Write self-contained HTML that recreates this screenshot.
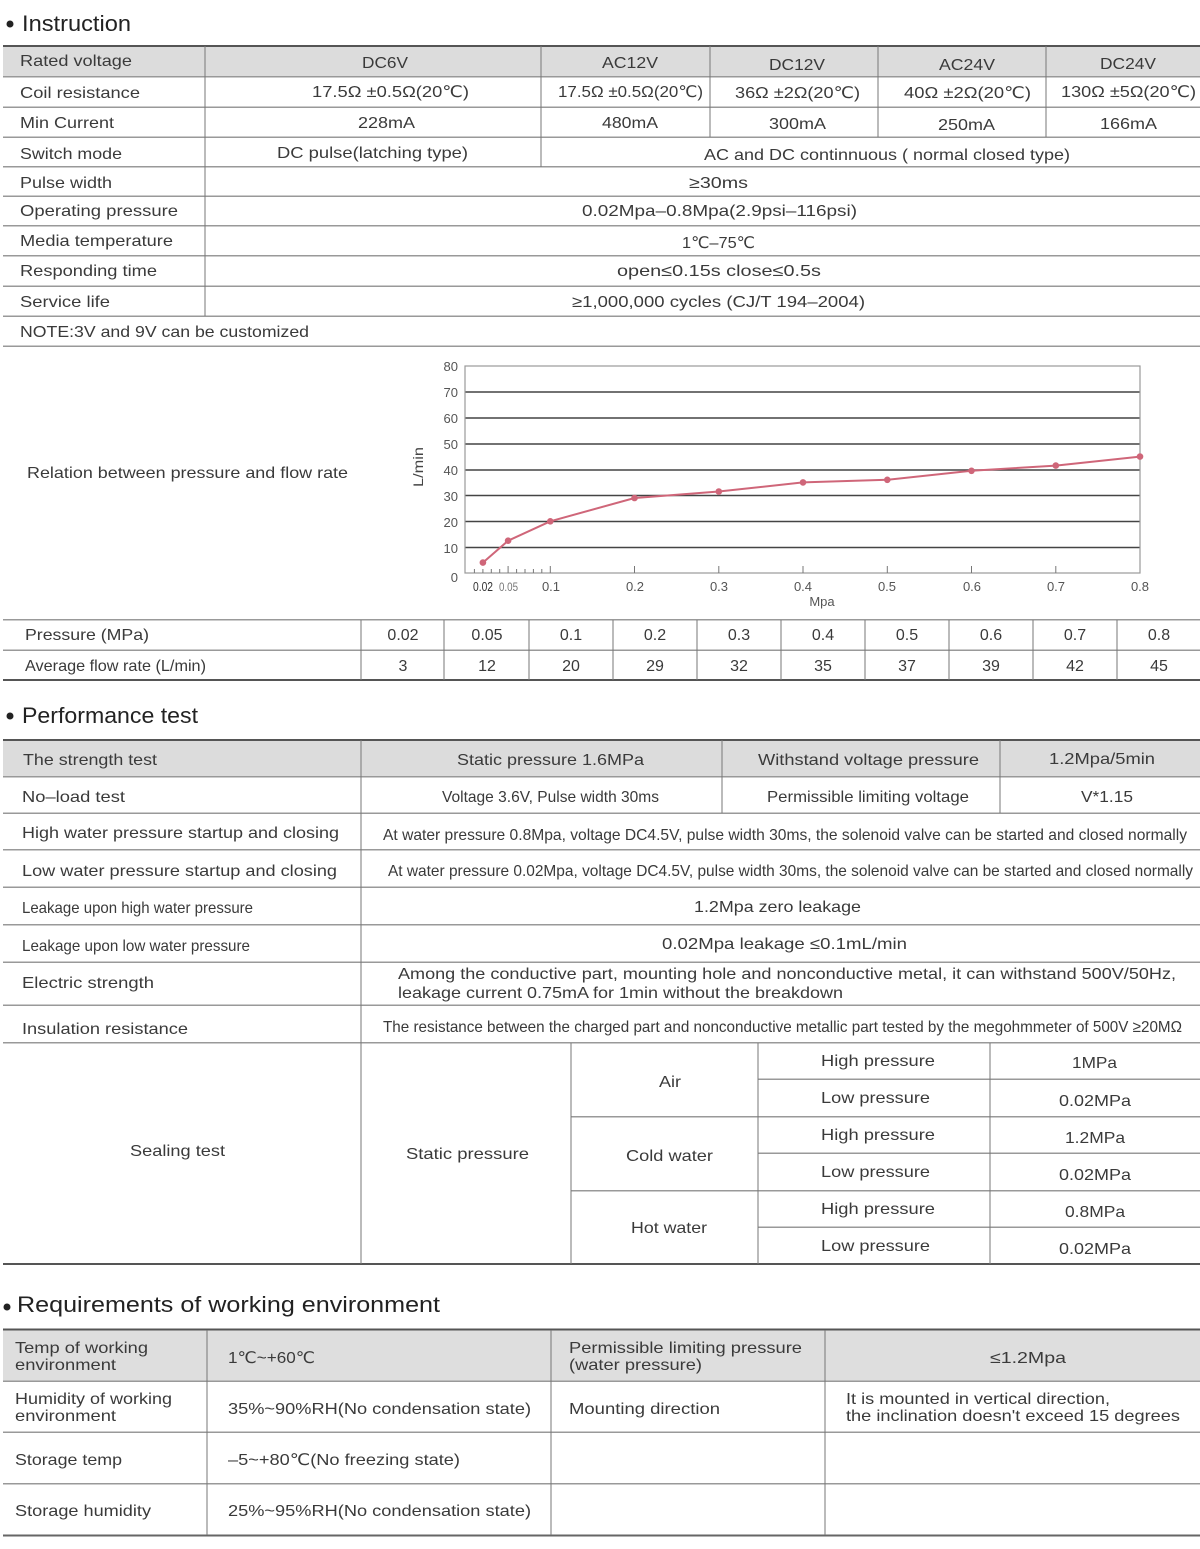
<!DOCTYPE html>
<html><head><meta charset="utf-8">
<style>
html,body{margin:0;padding:0;background:#fff;}
svg{display:block;}
text{font-family:"Liberation Sans","DejaVu Sans",sans-serif;fill:#3a3a3a;font-size:16px;}
.s{font-size:16px;}
.t{font-size:22px;fill:#222;}
.ax{font-size:13px;fill:#555;}
</style></head>
<body>
<svg width="1200" height="1549" viewBox="0 0 1200 1549" xmlns="http://www.w3.org/2000/svg">
<!-- ================= Instruction ================= -->
<circle cx="10" cy="24" r="3.5" fill="#222"/>
<text class="t" x="22" y="31" textLength="109" lengthAdjust="spacingAndGlyphs">Instruction</text>

<rect x="3" y="47" width="1197" height="29" fill="#dcdcdc"/>
<rect x="3" y="45" width="1197" height="2" fill="#555"/>
<g fill="#999">
<rect x="3" y="76" width="1197" height="1.5"/>
<rect x="3" y="106.5" width="1197" height="1.5"/>
<rect x="3" y="136.5" width="1197" height="1.5"/>
<rect x="3" y="166" width="1197" height="1.5"/>
<rect x="3" y="195.5" width="1197" height="1.5"/>
<rect x="3" y="225" width="1197" height="1.5"/>
<rect x="3" y="255" width="1197" height="1.5"/>
<rect x="3" y="285.5" width="1197" height="1.5"/>
<rect x="3" y="315.5" width="1197" height="1.5"/>
<rect x="3" y="345.5" width="1197" height="1.5"/>
</g>
<g fill="#777">
<rect x="204.5" y="46" width="1" height="270"/>
<rect x="540.5" y="46" width="1" height="121"/>
<rect x="709.5" y="46" width="1" height="91"/>
<rect x="877.5" y="46" width="1" height="91"/>
<rect x="1045.5" y="46" width="1" height="91"/>
</g>

<text x="20" y="66" textLength="112" lengthAdjust="spacingAndGlyphs">Rated voltage</text>
<text x="362" y="68" textLength="46" lengthAdjust="spacingAndGlyphs">DC6V</text>
<text x="602" y="68" textLength="56" lengthAdjust="spacingAndGlyphs">AC12V</text>
<text x="769" y="70" textLength="56" lengthAdjust="spacingAndGlyphs">DC12V</text>
<text x="939" y="70" textLength="56" lengthAdjust="spacingAndGlyphs">AC24V</text>
<text x="1100" y="69" textLength="56" lengthAdjust="spacingAndGlyphs">DC24V</text>

<text x="20" y="98" textLength="120" lengthAdjust="spacingAndGlyphs">Coil resistance</text>
<text x="312" y="97" textLength="157" lengthAdjust="spacingAndGlyphs">17.5Ω ±0.5Ω(20℃)</text>
<text x="558" y="97" textLength="145" lengthAdjust="spacingAndGlyphs">17.5Ω ±0.5Ω(20℃)</text>
<text x="735" y="98" textLength="125" lengthAdjust="spacingAndGlyphs">36Ω ±2Ω(20℃)</text>
<text x="904" y="98" textLength="127" lengthAdjust="spacingAndGlyphs">40Ω ±2Ω(20℃)</text>
<text x="1061" y="97" textLength="135" lengthAdjust="spacingAndGlyphs">130Ω ±5Ω(20℃)</text>

<text x="20" y="128" textLength="94" lengthAdjust="spacingAndGlyphs">Min Current</text>
<text x="358" y="128" textLength="57" lengthAdjust="spacingAndGlyphs">228mA</text>
<text x="602" y="128" textLength="56" lengthAdjust="spacingAndGlyphs">480mA</text>
<text x="769" y="129" textLength="57" lengthAdjust="spacingAndGlyphs">300mA</text>
<text x="938" y="130" textLength="57" lengthAdjust="spacingAndGlyphs">250mA</text>
<text x="1100" y="129" textLength="57" lengthAdjust="spacingAndGlyphs">166mA</text>

<text x="20" y="159" textLength="102" lengthAdjust="spacingAndGlyphs">Switch mode</text>
<text x="277" y="158" textLength="191" lengthAdjust="spacingAndGlyphs">DC pulse(latching type)</text>
<text x="704" y="160" textLength="366" lengthAdjust="spacingAndGlyphs">AC and DC continnuous ( normal closed type)</text>

<text x="20" y="188" textLength="92" lengthAdjust="spacingAndGlyphs">Pulse width</text>
<text x="689" y="188" textLength="59" lengthAdjust="spacingAndGlyphs">≥30ms</text>

<text x="20" y="216" textLength="158" lengthAdjust="spacingAndGlyphs">Operating pressure</text>
<text x="582" y="216" textLength="275" lengthAdjust="spacingAndGlyphs">0.02Mpa–0.8Mpa(2.9psi–116psi)</text>

<text x="20" y="246" textLength="153" lengthAdjust="spacingAndGlyphs">Media temperature</text>
<text x="682" y="248" textLength="73" lengthAdjust="spacingAndGlyphs">1℃–75℃</text>

<text x="20" y="276" textLength="137" lengthAdjust="spacingAndGlyphs">Responding time</text>
<text x="617" y="276" textLength="204" lengthAdjust="spacingAndGlyphs">open≤0.15s  close≤0.5s</text>

<text x="20" y="307" textLength="90" lengthAdjust="spacingAndGlyphs">Service life</text>
<text x="572" y="307" textLength="293" lengthAdjust="spacingAndGlyphs">≥1,000,000 cycles (CJ/T 194–2004)</text>

<text x="20" y="337" textLength="289" lengthAdjust="spacingAndGlyphs">NOTE:3V and 9V can be customized</text>

<!-- ================= Chart ================= -->
<text x="27" y="478" textLength="321" lengthAdjust="spacingAndGlyphs">Relation between pressure and flow rate</text>
<text class="ax" transform="translate(423,467) rotate(-90)" x="-20" y="0" textLength="40" lengthAdjust="spacingAndGlyphs" style="font-size:14px;fill:#444">L/min</text>

<g stroke="#444" stroke-width="1.4">
<line x1="465" y1="392" x2="1140" y2="392"/>
<line x1="465" y1="418" x2="1140" y2="418"/>
<line x1="465" y1="444" x2="1140" y2="444"/>
<line x1="465" y1="470" x2="1140" y2="470"/>
<line x1="465" y1="495.5" x2="1140" y2="495.5"/>
<line x1="465" y1="521.5" x2="1140" y2="521.5"/>
<line x1="465" y1="547.5" x2="1140" y2="547.5"/>
</g>
<g stroke="#999" stroke-width="1.2" fill="none">
<rect x="465" y="366" width="675" height="207"/>
</g>
<g stroke="#777" stroke-width="1">
<line x1="474.4" y1="569" x2="474.4" y2="573"/>
<line x1="482.9" y1="569" x2="482.9" y2="573"/>
<line x1="491.3" y1="569" x2="491.3" y2="573"/>
<line x1="499.7" y1="569" x2="499.7" y2="573"/>
<line x1="508.1" y1="566" x2="508.1" y2="573"/>
<line x1="516.6" y1="569" x2="516.6" y2="573"/>
<line x1="525" y1="569" x2="525" y2="573"/>
<line x1="533.4" y1="569" x2="533.4" y2="573"/>
<line x1="541.8" y1="569" x2="541.8" y2="573"/>
<line x1="550.3" y1="566" x2="550.3" y2="573"/>
<line x1="634.5" y1="566" x2="634.5" y2="573"/>
<line x1="718.8" y1="566" x2="718.8" y2="573"/>
<line x1="803" y1="566" x2="803" y2="573"/>
<line x1="887.3" y1="566" x2="887.3" y2="573"/>
<line x1="971.5" y1="566" x2="971.5" y2="573"/>
<line x1="1055.8" y1="566" x2="1055.8" y2="573"/>
</g>
<g class="ax" text-anchor="end">
<text class="ax" x="458" y="371">80</text>
<text class="ax" x="458" y="397">70</text>
<text class="ax" x="458" y="423">60</text>
<text class="ax" x="458" y="449">50</text>
<text class="ax" x="458" y="475">40</text>
<text class="ax" x="458" y="501">30</text>
<text class="ax" x="458" y="527">20</text>
<text class="ax" x="458" y="553">10</text>
<text class="ax" x="458" y="582">0</text>
</g>
<text class="ax" x="473" y="591" textLength="20" lengthAdjust="spacingAndGlyphs" style="fill:#333;font-size:13px">0.02</text>
<text class="ax" x="499" y="591" textLength="19" lengthAdjust="spacingAndGlyphs" style="fill:#777;font-size:12px">0.05</text>
<g text-anchor="middle">
<text class="ax" x="551" y="591">0.1</text>
<text class="ax" x="635" y="591">0.2</text>
<text class="ax" x="719" y="591">0.3</text>
<text class="ax" x="803" y="591">0.4</text>
<text class="ax" x="887" y="591">0.5</text>
<text class="ax" x="972" y="591">0.6</text>
<text class="ax" x="1056" y="591">0.7</text>
<text class="ax" x="1140" y="591">0.8</text>
<text class="ax" x="822" y="606">Mpa</text>
</g>
<polyline fill="none" stroke="#cf6679" stroke-width="2" points="482.9,562.6 508.1,540.7 550.3,521.3 634.5,498 718.8,491.5 803,482.4 887.3,479.8 971.5,470.8 1055.8,465.6 1140,456.6"/>
<g fill="#cf6679">
<circle cx="482.9" cy="562.6" r="3.3"/>
<circle cx="508.1" cy="540.7" r="3.3"/>
<circle cx="550.3" cy="521.3" r="3.3"/>
<circle cx="634.5" cy="498" r="3.3"/>
<circle cx="718.8" cy="491.5" r="3.3"/>
<circle cx="803" cy="482.4" r="3.3"/>
<circle cx="887.3" cy="479.8" r="3.3"/>
<circle cx="971.5" cy="470.8" r="3.3"/>
<circle cx="1055.8" cy="465.6" r="3.3"/>
<circle cx="1140" cy="456.6" r="3.3"/>
</g>

<!-- ================= Pressure table ================= -->
<rect x="3" y="619" width="1197" height="1.5" fill="#999"/>
<rect x="3" y="649.5" width="1197" height="1.5" fill="#999"/>
<rect x="3" y="679" width="1197" height="2" fill="#555"/>
<g fill="#777">
<rect x="360.5" y="620" width="1" height="60"/>
<rect x="443.5" y="620" width="1" height="60"/>
<rect x="528.5" y="620" width="1" height="60"/>
<rect x="612.5" y="620" width="1" height="60"/>
<rect x="696.5" y="620" width="1" height="60"/>
<rect x="780.5" y="620" width="1" height="60"/>
<rect x="864.5" y="620" width="1" height="60"/>
<rect x="948.5" y="620" width="1" height="60"/>
<rect x="1032.5" y="620" width="1" height="60"/>
<rect x="1116.5" y="620" width="1" height="60"/>
</g>
<text x="25" y="640" textLength="124" lengthAdjust="spacingAndGlyphs">Pressure (MPa)</text>
<text x="25" y="671" textLength="181" lengthAdjust="spacingAndGlyphs">Average flow rate (L/min)</text>
<g text-anchor="middle">
<text x="403" y="640">0.02</text><text x="487" y="640">0.05</text><text x="571" y="640">0.1</text><text x="655" y="640">0.2</text><text x="739" y="640">0.3</text><text x="823" y="640">0.4</text><text x="907" y="640">0.5</text><text x="991" y="640">0.6</text><text x="1075" y="640">0.7</text><text x="1159" y="640">0.8</text>
<text x="403" y="671">3</text><text x="487" y="671">12</text><text x="571" y="671">20</text><text x="655" y="671">29</text><text x="739" y="671">32</text><text x="823" y="671">35</text><text x="907" y="671">37</text><text x="991" y="671">39</text><text x="1075" y="671">42</text><text x="1159" y="671">45</text>
</g>

<!-- ================= Performance test ================= -->
<circle cx="10" cy="716" r="3.5" fill="#222"/>
<text class="t" x="22" y="723" textLength="176" lengthAdjust="spacingAndGlyphs">Performance test</text>

<rect x="3" y="741" width="1197" height="36" fill="#dcdcdc"/>
<rect x="3" y="739" width="1197" height="2" fill="#555"/>
<g fill="#999">
<rect x="3" y="776" width="1197" height="1.5"/>
<rect x="3" y="812.5" width="1197" height="1.5"/>
<rect x="3" y="849" width="1197" height="1.5"/>
<rect x="3" y="886.5" width="1197" height="1.5"/>
<rect x="3" y="924" width="1197" height="1.5"/>
<rect x="3" y="961.5" width="1197" height="1.5"/>
<rect x="3" y="1004.5" width="1197" height="1.5"/>
<rect x="3" y="1042" width="1197" height="1.5"/>
<rect x="758" y="1078.5" width="442" height="1.5"/>
<rect x="571" y="1116" width="629" height="1.5"/>
<rect x="758" y="1152.5" width="442" height="1.5"/>
<rect x="571" y="1190" width="629" height="1.5"/>
<rect x="758" y="1226.5" width="442" height="1.5"/>
</g>
<rect x="3" y="1263" width="1197" height="2" fill="#555"/>
<g fill="#777">
<rect x="360.5" y="740" width="1" height="524"/>
<rect x="721.5" y="740" width="1" height="73"/>
<rect x="999.5" y="740" width="1" height="73"/>
<rect x="570.5" y="1043" width="1" height="221"/>
<rect x="757.5" y="1043" width="1" height="221"/>
<rect x="989.5" y="1043" width="1" height="221"/>
</g>

<text x="23" y="765" textLength="134" lengthAdjust="spacingAndGlyphs">The strength test</text>
<text x="457" y="765" textLength="187" lengthAdjust="spacingAndGlyphs">Static pressure 1.6MPa</text>
<text x="758" y="765" textLength="221" lengthAdjust="spacingAndGlyphs">Withstand voltage pressure</text>
<text x="1049" y="764" textLength="106" lengthAdjust="spacingAndGlyphs">1.2Mpa/5min</text>

<text x="22" y="802" textLength="103" lengthAdjust="spacingAndGlyphs">No–load test</text>
<text x="442" y="802" textLength="217" lengthAdjust="spacingAndGlyphs">Voltage 3.6V, Pulse width 30ms</text>
<text x="767" y="802" textLength="202" lengthAdjust="spacingAndGlyphs">Permissible limiting voltage</text>
<text x="1081" y="802" textLength="52" lengthAdjust="spacingAndGlyphs">V*1.15</text>

<text x="22" y="838" textLength="317" lengthAdjust="spacingAndGlyphs">High water pressure startup and closing</text>
<text x="383" y="840" textLength="804" lengthAdjust="spacingAndGlyphs">At water pressure 0.8Mpa, voltage DC4.5V, pulse width 30ms, the solenoid valve can be started and closed normally</text>
<text x="22" y="876" textLength="315" lengthAdjust="spacingAndGlyphs">Low water pressure startup and closing</text>
<text x="388" y="876" textLength="805" lengthAdjust="spacingAndGlyphs">At water pressure 0.02Mpa, voltage DC4.5V, pulse width 30ms, the solenoid valve can be started and closed normally</text>

<text class="s" x="22" y="913" textLength="231" lengthAdjust="spacingAndGlyphs">Leakage upon high water pressure</text>
<text x="694" y="912" textLength="167" lengthAdjust="spacingAndGlyphs">1.2Mpa zero leakage</text>
<text class="s" x="22" y="951" textLength="228" lengthAdjust="spacingAndGlyphs">Leakage upon low water pressure</text>
<text x="662" y="949" textLength="245" lengthAdjust="spacingAndGlyphs">0.02Mpa leakage ≤0.1mL/min</text>

<text x="22" y="988" textLength="132" lengthAdjust="spacingAndGlyphs">Electric strength</text>
<text x="398" y="979" textLength="778" lengthAdjust="spacingAndGlyphs">Among the conductive part, mounting hole and nonconductive metal, it can withstand 500V/50Hz,</text>
<text x="398" y="998" textLength="445" lengthAdjust="spacingAndGlyphs">leakage current 0.75mA for 1min without the breakdown</text>

<text x="22" y="1034" textLength="166" lengthAdjust="spacingAndGlyphs">Insulation resistance</text>
<text class="s" x="383" y="1032" textLength="799" lengthAdjust="spacingAndGlyphs">The resistance between the charged part and nonconductive metallic part tested by the megohmmeter of 500V ≥20MΩ</text>

<text x="130" y="1156" textLength="95" lengthAdjust="spacingAndGlyphs">Sealing test</text>
<text x="406" y="1159" textLength="123" lengthAdjust="spacingAndGlyphs">Static pressure</text>
<text x="659" y="1087" textLength="22" lengthAdjust="spacingAndGlyphs">Air</text>
<text x="626" y="1161" textLength="87" lengthAdjust="spacingAndGlyphs">Cold water</text>
<text x="631" y="1233" textLength="76" lengthAdjust="spacingAndGlyphs">Hot water</text>

<text x="821" y="1066" textLength="114" lengthAdjust="spacingAndGlyphs">High pressure</text>
<text x="821" y="1103" textLength="109" lengthAdjust="spacingAndGlyphs">Low pressure</text>
<text x="821" y="1140" textLength="114" lengthAdjust="spacingAndGlyphs">High pressure</text>
<text x="821" y="1177" textLength="109" lengthAdjust="spacingAndGlyphs">Low pressure</text>
<text x="821" y="1214" textLength="114" lengthAdjust="spacingAndGlyphs">High pressure</text>
<text x="821" y="1251" textLength="109" lengthAdjust="spacingAndGlyphs">Low pressure</text>

<text x="1072" y="1068" textLength="45" lengthAdjust="spacingAndGlyphs">1MPa</text>
<text x="1059" y="1106" textLength="72" lengthAdjust="spacingAndGlyphs">0.02MPa</text>
<text x="1065" y="1143" textLength="60" lengthAdjust="spacingAndGlyphs">1.2MPa</text>
<text x="1059" y="1180" textLength="72" lengthAdjust="spacingAndGlyphs">0.02MPa</text>
<text x="1065" y="1217" textLength="60" lengthAdjust="spacingAndGlyphs">0.8MPa</text>
<text x="1059" y="1254" textLength="72" lengthAdjust="spacingAndGlyphs">0.02MPa</text>

<!-- ================= Requirements ================= -->
<circle cx="7" cy="1307" r="3.5" fill="#222"/>
<text class="t" x="17" y="1312" textLength="423" lengthAdjust="spacingAndGlyphs">Requirements of working environment</text>

<rect x="3" y="1330" width="1197" height="51" fill="#dedede"/>
<rect x="3" y="1328.5" width="1197" height="2" fill="#555"/>
<g fill="#999">
<rect x="3" y="1380.5" width="1197" height="1.5"/>
<rect x="3" y="1431.5" width="1197" height="1.5"/>
<rect x="3" y="1483" width="1197" height="1.5"/>
</g>
<rect x="3" y="1534.5" width="1197" height="2" fill="#666"/>
<g fill="#777">
<rect x="206.5" y="1330" width="1" height="205"/>
<rect x="550.5" y="1330" width="1" height="205"/>
<rect x="824.5" y="1330" width="1" height="205"/>
</g>

<text x="15" y="1353" textLength="133" lengthAdjust="spacingAndGlyphs">Temp of working</text>
<text x="15" y="1370" textLength="101" lengthAdjust="spacingAndGlyphs">environment</text>
<text x="228" y="1363" textLength="87" lengthAdjust="spacingAndGlyphs">1℃~+60℃</text>
<text x="569" y="1353" textLength="233" lengthAdjust="spacingAndGlyphs">Permissible limiting pressure</text>
<text x="569" y="1370" textLength="133" lengthAdjust="spacingAndGlyphs">(water pressure)</text>
<text x="990" y="1363" textLength="76" lengthAdjust="spacingAndGlyphs">≤1.2Mpa</text>

<text x="15" y="1404" textLength="157" lengthAdjust="spacingAndGlyphs">Humidity of working</text>
<text x="15" y="1421" textLength="101" lengthAdjust="spacingAndGlyphs">environment</text>
<text x="228" y="1414" textLength="303" lengthAdjust="spacingAndGlyphs">35%~90%RH(No condensation state)</text>
<text x="569" y="1414" textLength="151" lengthAdjust="spacingAndGlyphs">Mounting direction</text>
<text x="846" y="1404" textLength="264" lengthAdjust="spacingAndGlyphs">It is mounted in vertical direction,</text>
<text x="846" y="1421" textLength="334" lengthAdjust="spacingAndGlyphs">the inclination doesn't exceed 15 degrees</text>

<text x="15" y="1465" textLength="107" lengthAdjust="spacingAndGlyphs">Storage temp</text>
<text x="228" y="1465" textLength="232" lengthAdjust="spacingAndGlyphs">–5~+80℃(No freezing state)</text>

<text x="15" y="1516" textLength="136" lengthAdjust="spacingAndGlyphs">Storage humidity</text>
<text x="228" y="1516" textLength="303" lengthAdjust="spacingAndGlyphs">25%~95%RH(No condensation state)</text>
</svg>
</body></html>
